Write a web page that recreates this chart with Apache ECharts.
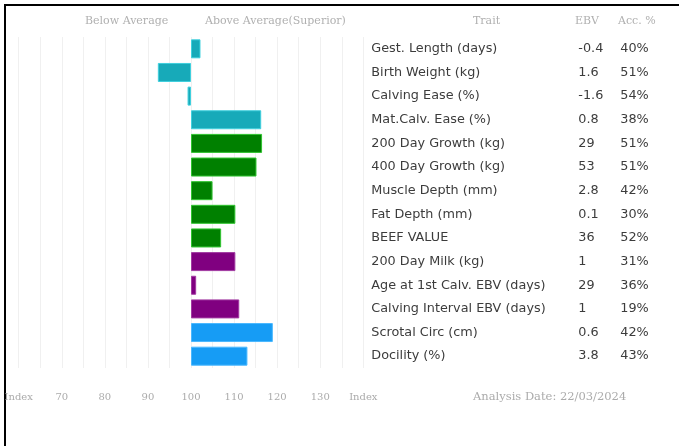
<!DOCTYPE html>
<html>
<head>
<meta charset="utf-8">
<script src="https://cdn.jsdelivr.net/npm/echarts@6/dist/echarts.min.js"></script>
<style>
  html, body { margin: 0; padding: 0; background: #fff; }
  #frame { position: absolute; left: 4px; top: 4px; width: 675px; height: 442px; border-top: 2px solid #000; border-left: 2px solid #000; box-sizing: border-box; }
  #chart { position: absolute; left: 0; top: 0; width: 679px; height: 446px; }
</style>
</head>
<body>
<div id="frame"></div>
<div id="chart"></div>
<script>
const traits = ["Gest. Length (days)", "Birth Weight (kg)", "Calving Ease (%)", "Mat.Calv. Ease (%)", "200 Day Growth (kg)", "400 Day Growth (kg)", "Muscle Depth (mm)", "Fat Depth (mm)", "BEEF VALUE", "200 Day Milk (kg)", "Age at 1st Calv. EBV (days)", "Calving Interval EBV (days)", "Scrotal Circ (cm)", "Docility (%)"];
const ebv = ["-0.4", "1.6", "-1.6", "0.8", "29", "53", "2.8", "0.1", "36", "1", "29", "1", "0.6", "3.8"];
const acc = ["40%", "51%", "54%", "38%", "51%", "51%", "42%", "30%", "52%", "31%", "36%", "19%", "42%", "43%"];
const indexValues = [102.2, 92.3, 99.2, 116.3, 116.5, 115.2, 105.0, 110.3, 107.0, 110.3, 101.2, 111.2, 119.0, 113.1];
const groups = ["teal", "teal", "teal", "teal", "green", "green", "green", "green", "green", "purple", "purple", "purple", "blue", "blue"];
const tickLabels = ["Index", "70", "80", "90", "100", "110", "120", "130", "Index"];
const headerLeft = ["Below Average", "Above Average(Superior)"];
const headerRight = ["Trait", "EBV", "Acc. %"];
const analysisDate = "Analysis Date: 22/03/2024";

const palette = {
  teal:   { color: '#17aab9', border: '#3fd0de' },
  green:  { color: '#008000', border: '#2fc42f' },
  purple: { color: '#800080', border: '#a23aa2' },
  blue:   { color: '#169cf5', border: '#4ab8ff' }
};
const BASE = 100;
const FONT = 'DejaVu Sans';
const SMALL = 'DejaVu Serif';

const chart = echarts.init(document.getElementById('chart'), null, { renderer: 'canvas' });

const barData = indexValues.map((v, i) => ({
  value: +(v - BASE).toFixed(2),
  itemStyle: { color: palette[groups[i]].color, borderColor: palette[groups[i]].border, borderWidth: 1 }
}));

const option = {
  animation: false,
  grid: { left: 18.7, right: 315.7, top: 37, bottom: 78 },
  xAxis: {
    type: 'value', min: -40, max: 40, interval: 5,
    axisLine: { show: false }, axisTick: { show: false },
    splitLine: { show: true, lineStyle: { color: '#f0f0f0', width: 1 } },
    axisLabel: {
      margin: 24, color: '#ababab', fontSize: 10, fontFamily: SMALL,
      formatter: function (v) {
        if (v % 10 !== 0) return '';
        return tickLabels[(v + 40) / 10];
      }
    }
  },
  yAxis: {
    type: 'category', data: traits, inverse: true, position: 'right',
    axisLine: { show: false }, axisTick: { show: false }, splitLine: { show: false },
    axisLabel: {
      margin: 8, align: 'left',
      formatter: function (val, idx) {
        return '{t|' + val + '}{e|' + ebv[idx] + '}{a|' + acc[idx] + '}';
      },
      rich: {
        t: { width: 207, fontSize: 12.8, color: '#3c3c3c', fontFamily: FONT },
        e: { width: 42, fontSize: 12.8, color: '#3c3c3c', fontFamily: FONT },
        a: { width: 40, fontSize: 12.8, color: '#3c3c3c', fontFamily: FONT }
      }
    }
  },
  series: [{
    type: 'bar', data: barData, barWidth: 19
  }],
  graphic: [
    { type: 'text', left: 85, top: 16, style: { text: headerLeft[0], fill: '#b0b0b0', fontSize: 11, fontFamily: SMALL } },
    { type: 'text', left: 205, top: 16, style: { text: headerLeft[1], fill: '#b0b0b0', fontSize: 11, fontFamily: SMALL } },
    { type: 'text', left: 473, top: 16, style: { text: headerRight[0], fill: '#b0b0b0', fontSize: 11, fontFamily: SMALL } },
    { type: 'text', left: 575, top: 16, style: { text: headerRight[1], fill: '#b0b0b0', fontSize: 11, fontFamily: SMALL } },
    { type: 'text', left: 618, top: 16, style: { text: headerRight[2], fill: '#b0b0b0', fontSize: 11, fontFamily: SMALL } },
    { type: 'text', left: 473, top: 391, style: { text: analysisDate, fill: '#ababab', fontSize: 11.5, fontFamily: SMALL } }
  ]
};
chart.setOption(option);
</script>
</body>
</html>
